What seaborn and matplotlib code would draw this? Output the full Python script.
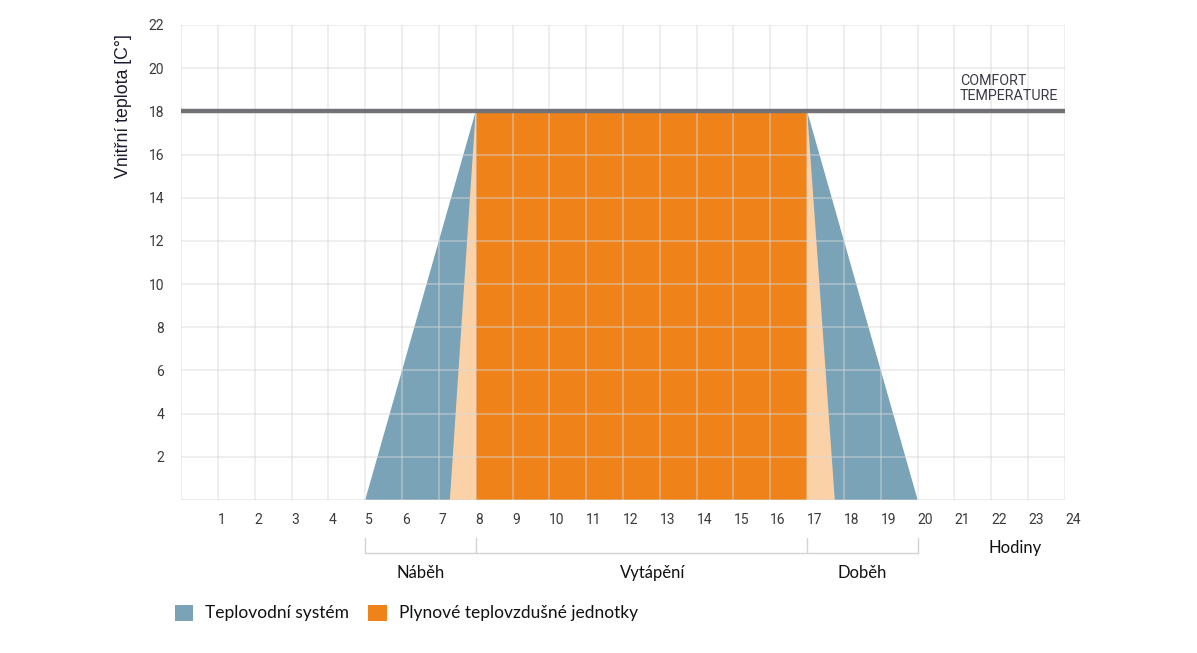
import matplotlib
matplotlib.use("Agg")
import matplotlib.pyplot as plt
import matplotlib.transforms as mtransforms
from matplotlib.patches import Patch
import seaborn as sns
import pandas as pd

# ---- data ----
hours = list(range(1, 25))
y_ticks = [2, 4, 6, 8, 10, 12, 14, 16, 18, 20, 22]
comfort_temp = 18

water_x = [5, 8, 17, 20]          # Teplovodní systém
water_y = [0, 18, 18, 0]
gas_fast_x = [7.3, 8, 17, 17.75]  # light transition of gas units
gas_fast_y = [0, 18, 18, 0]
gas_x = [8, 17]                   # Plynové teplovzdušné jednotky
gas_y = [18, 18]

phase_bounds = [5, 8, 17, 20]
phase_labels = ["Náběh", "Vytápění", "Doběh"]
phase_label_x = [6.5, 12.8, 18.5]

legend_labels = ["Teplovodní systém", "Plynové teplovzdušné jednotky"]

C_TEAL = "#7aa3b8"
C_ORANGE = "#f0821a"
C_PEACH = "#fbd2a8"
C_LINE = "#727276"
C_TXT = "#3a3a3a"

sns.set_theme(style="white")
plt.rcParams["font.family"] = ["Lato", "DejaVu Sans"]

fig = plt.figure(figsize=(11.97, 6.53), dpi=100)
ax = fig.add_axes([181 / 1197, 1 - 500 / 653, 884 / 1197, 475 / 653])

ax.fill(water_x, water_y, color=C_TEAL, lw=0, zorder=1)
ax.fill(gas_fast_x, gas_fast_y, color=C_PEACH, lw=0, zorder=1.1)
ax.fill_between(gas_x, 0, gas_y, color=C_ORANGE, lw=0, zorder=1.2)

df_line = pd.DataFrame({"h": [0, 24], "t": [comfort_temp, comfort_temp]})
sns.lineplot(data=df_line, x="h", y="t", ax=ax, color=C_LINE, lw=3.2, zorder=4)

ax.set_xlim(0, 24)
ax.set_ylim(0, 22)
ax.set_xticks(range(0, 25))
ax.set_xticklabels([""] + [str(h) for h in hours], ha="left")
ax.set_yticks([0] + y_ticks)
ax.set_yticklabels([""] + [str(v) for v in y_ticks])
ax.tick_params(axis="x", length=0, pad=9, labelsize=10, labelcolor=C_TXT)
ax.tick_params(axis="y", length=0, pad=12, labelsize=10, labelcolor=C_TXT)
for lab in ax.get_xticklabels() + ax.get_yticklabels():
    lab.set_fontfamily(["Roboto", "DejaVu Sans"])

ax.set_axisbelow(False)
ax.grid(True, color="#d8d8d8", alpha=0.55, lw=1.1, zorder=2.5)
for s in ax.spines.values():
    s.set_visible(False)
ax.set_xlabel("")
ax.set_ylabel("")

ax.text(-0.0656, 0.83, "Vnitřní teplota [C°]", transform=ax.transAxes,
        rotation=90, ha="center", va="center", fontsize=12.8, color="#1a1a2e",
        family=["Liberation Sans", "DejaVu Sans"])

ax.text(21.15, 18.4, "COMFORT\nTEMPERATURE", ha="left", va="bottom",
        fontsize=10.3, color="#3a3a48", linespacing=1.1,
        family=["Roboto", "DejaVu Sans"])

# phase bracket below the axis
trans = mtransforms.blended_transform_factory(ax.transData, ax.transAxes)
ax.plot([phase_bounds[0], phase_bounds[-1]], [-0.111, -0.111], color="#d3d3d3",
        lw=1, transform=trans, clip_on=False)
for b in phase_bounds:
    ax.plot([b, b], [-0.080, -0.111], color="#d3d3d3", lw=1,
            transform=trans, clip_on=False)
for lx, lt in zip(phase_label_x, phase_labels):
    ax.text(lx, -0.154, lt, transform=trans, ha="center", va="center",
            fontsize=12, color="#111111")
ax.text(22.64, -0.101, "Hodiny", transform=trans, ha="center", va="center",
        fontsize=12, color="#111111")

handles = [Patch(facecolor=C_TEAL, edgecolor="none"),
           Patch(facecolor=C_ORANGE, edgecolor="none")]
fig.legend(handles, legend_labels, loc="center left",
           bbox_to_anchor=(175 / 1197, 1 - 613 / 653), ncol=2, frameon=False,
           fontsize=12.5, handlelength=1.05, handleheight=1.05,
           handletextpad=0.7, columnspacing=1.1, borderaxespad=0,
           borderpad=0, labelcolor="#111111")

fig.savefig("out.png", dpi=100)
